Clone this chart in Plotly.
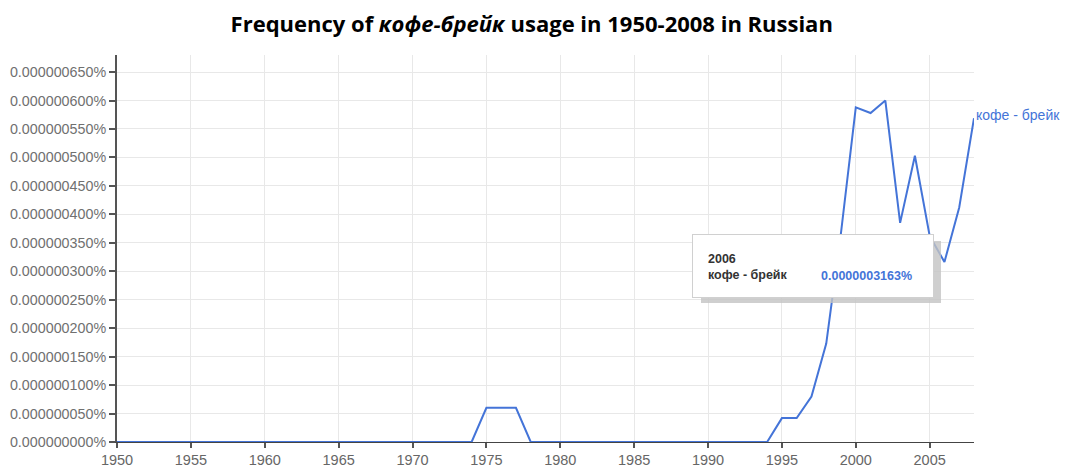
import plotly.graph_objects as go

years = list(range(1950, 2009))
# frequency in percent
values = ([0.0] * 25 +                       # 1950-1974
          [0.60e-7, 0.60e-7, 0.60e-7] +      # 1975-1977
          [0.0] * 17 +                       # 1978-1994
          [0.42e-7, 0.42e-7, 0.80e-7, 1.73e-7, 3.68e-7,   # 1995-1999
           5.88e-7, 5.78e-7, 6.00e-7, 3.85e-7, 5.03e-7,   # 2000-2004
           3.62e-7, 3.163e-7, 4.12e-7, 5.69e-7])          # 2005-2008
series_name = "кофе - брейк"
tip_year = 2006
tip_text = "0.0000003163%"
yticks = [i * 0.5e-7 for i in range(14)]
ytext = [f"{v:.9f}%" for v in yticks]
xticks = list(range(1950, 2006, 5))

blue = "#4474d8"
font_ax = "Liberation Sans, Arial"
fig = go.Figure()
fig.add_trace(go.Scatter(x=years, y=values, mode="lines",
                         line=dict(color=blue, width=2), showlegend=False,
                         hoverinfo="skip"))

tip_val = values[years.index(tip_year)]
# tooltip shadow
fig.add_annotation(x=tip_year, y=tip_val, xref="x", yref="y",
                   text=" ", showarrow=False, xanchor="right", yanchor="middle",
                   xshift=-3, yshift=-10, width=240, height=62, borderpad=0,
                   bgcolor="#c4c4c4", borderwidth=0, opacity=0.8)
# tooltip box
fig.add_annotation(x=tip_year, y=tip_val, xref="x", yref="y",
                   text=" ", showarrow=False, xanchor="right", yanchor="middle",
                   xshift=-10, yshift=-4, width=240, height=62, borderpad=0,
                   bgcolor="white", bordercolor="#d0d0d0", borderwidth=1)
fig.add_annotation(x=tip_year, y=tip_val, xref="x", yref="y",
                   text=f"<b>{tip_year}</b><br><b>{series_name}</b>",
                   showarrow=False, xanchor="left", yanchor="middle", align="left",
                   xshift=-238, yshift=-5,
                   font=dict(family=font_ax, size=12.5, color="#333333"))
fig.add_annotation(x=tip_year, y=tip_val, xref="x", yref="y",
                   text=f"<b>{tip_text}</b>",
                   showarrow=False, xanchor="left", yanchor="middle", align="left",
                   xshift=-125, yshift=-14,
                   font=dict(family=font_ax, size=12.5, color=blue))
# series label at end of line
fig.add_annotation(x=years[-1], y=values[-1], xref="x", yref="y",
                   text=series_name, showarrow=False, xanchor="left", yanchor="middle",
                   xshift=0, yshift=3,
                   font=dict(family=font_ax, size=14, color=blue))

fig.update_layout(
    width=1071, height=470,
    margin=dict(l=109, r=105, t=47, b=36),
    paper_bgcolor="white", plot_bgcolor="white",
    title=dict(text="<b>Frequency of <i>кофе-брейк</i> usage in 1950-2008 in Russian</b>",
               x=0.489, xanchor="center", y=1 - 16.5 / 470, yanchor="middle",
               font=dict(family="Open Sans", size=22, color="black")),
    xaxis=dict(range=[1950, 2008], tickvals=xticks, ticks="outside", ticklen=5,
               tickwidth=2, tickcolor="#555", showgrid=True, gridcolor="#e8e8e8",
               gridwidth=1, showline=True, linecolor="#444", linewidth=1,
               zeroline=False, automargin=False,
               tickfont=dict(family=font_ax, size=14.5, color="#666666")),
    yaxis=dict(range=[0, 6.8e-7], tickvals=yticks, ticktext=ytext,
               ticks="outside", ticklen=6, tickwidth=2, tickcolor="#555",
               showgrid=True, gridcolor="#e8e8e8", showline=True, linecolor="#555",
               linewidth=2, zeroline=False, automargin=False,
               tickfont=dict(family=font_ax, size=14.3, color="#707070")),
)
fig.write_html("out.html")
